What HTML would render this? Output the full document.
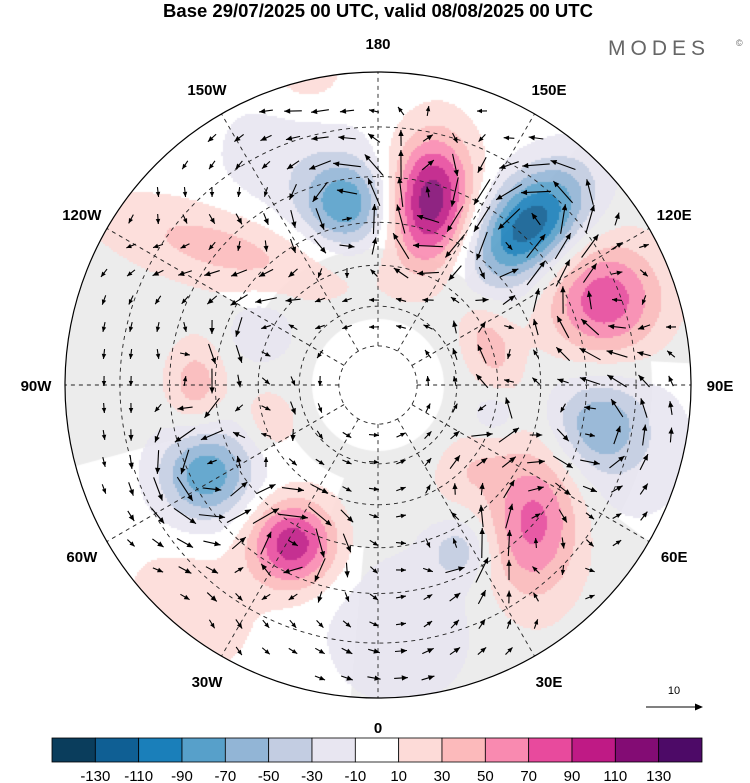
<!DOCTYPE html>
<html><head><meta charset="utf-8">
<style>
html,body{margin:0;padding:0;background:#fff;}
#wrap{position:relative;width:750px;height:783px;overflow:hidden;font-family:"Liberation Sans",sans-serif;}
canvas,svg{position:absolute;left:0;top:0;}
</style></head>
<body>
<div id="wrap">
<canvas id="cv" width="750" height="783"></canvas>
<svg id="sv" width="750" height="783"></svg>
</div>
<script>
// ---- data ----
const blobLon = [164, 136.5, -170, -158.6, 110.5, -62.5, -28.3, -39.9, 49.3, 79.6, 75, 26.4, 5, -90, -72, 109.7, 75.6, -115, -132, -167, 47];
const blobLat = [43.6, 37.4, 45.4, 33.2, 33.2, 43.2, 46, 23.6, 40.4, 37, 31.4, 45.2, 32.4, 45.6, 61.4, 60.2, 59.8, 57.8, 40.8, 19.2, 58.8];
const blobAmp = [125, -125, -80, -22, 85, -85, 105, 28, 80, -55, -20, -40, -30, 42, 25, 40, -30, -30, 40, 25, 25];
const blobSr  = [45, 48, 30, 55, 40, 33, 30, 38, 55, 32, 60, 22, 50, 20, 18, 18, 15, 22, 85, 30, 22];
const blobSt  = [28, 30, 30, 55, 40, 33, 30, 45, 33, 32, 60, 22, 50, 30, 22, 32, 15, 22, 28, 30, 28];
const blobRot = [-12, 0, 0, 0, 0, 0, 0, 0, 52, 0, 0, 0, 0, 0, 0, 0, 0, 0, -28, 0, 0];
const levels = [-130,-110,-90,-70,-50,-30,-10,10,30,50,70,90,110,130];
const levelLabels = ["-130","-110","-90","-70","-50","-30","-10","10","30","50","70","90","110","130"];
const lonLabels = ["180","150E","120E","90E","60E","30E","0","30W","60W","90W","120W","150W"];
const lonLabelVals = [180,150,120,90,60,30,0,-30,-60,-90,-120,-150];
const latCircles = [80,70,60,50,40,30];

const colors = ["#0a3d5c","#0f5f94","#1a7fba","#57a0ca","#92b5d6","#c3cde2","#e8e6f1","#ffffff","#fddbd8","#fcbabb","#f98ab0","#e84a9d","#bf1a85","#830c74","#4d0a67"];
const CX=378, CY=385, R=313, K=R/Math.tan(35*Math.PI/180);
function proj(lon,lat){const r=K*Math.tan((90-lat)/2*Math.PI/180);const a=lon*Math.PI/180;return [CX+r*Math.sin(a),CY+r*Math.cos(a)];}
const B=blobLon.map((lon,i)=>{const p=proj(lon,blobLat[i]);const dx=p[0]-CX,dy=p[1]-CY,d=Math.hypot(dx,dy)||1;
 let ux=dx/d,uy=dy/d;const t=blobRot[i]*Math.PI/180;const rx=ux*Math.cos(t)-uy*Math.sin(t),ry=ux*Math.sin(t)+uy*Math.cos(t);
 return {x:p[0],y:p[1],ux:rx,uy:ry,a:blobAmp[i],sr:blobSr[i],st:blobSt[i]};});
function field(x,y){let v=0;for(const b of B){const dx=x-b.x,dy=y-b.y;const pr=dx*b.ux+dy*b.uy,pt=-dx*b.uy+dy*b.ux;v+=b.a*Math.exp(-0.5*(pr*pr/(b.sr*b.sr)+pt*pt/(b.st*b.st)));}return v;}
function colorFor(v){let i=0;while(i<levels.length&&v>=levels[i])i++;return colors[i];}

// ---- canvas fill ----
const cv=document.getElementById('cv'),ctx=cv.getContext('2d');
ctx.save();ctx.beginPath();ctx.arc(CX,CY,R,0,Math.PI*2);ctx.clip();
ctx.fillStyle='#ececec';
ctx.fillRect(0,0,750,783);
function wedge(l1,l2,lat1,lat2){ctx.beginPath();for(let l=l1;l<=l2;l+=2){const p=proj(l,lat1);ctx.lineTo(p[0],p[1]);}for(let l=l2;l>=l1;l-=2){const p=proj(l,lat2);ctx.lineTo(p[0],p[1]);}ctx.closePath();ctx.fill();}
ctx.fillStyle='#fff';
wedge(140,240,20,56);wedge(-75,-5,20,50);wedge(-60,-20,50,65);wedge(60,95,20,27);
ctx.beginPath();ctx.arc(CX,CY,66,0,Math.PI*2);ctx.fill();
ctx.globalAlpha=0.9;
const st=2;
for(let y=CY-R;y<CY+R;y+=st){for(let x=CX-R;x<CX+R;x+=st){const v=field(x+1,y+1);if(v>=-10&&v<10)continue;ctx.fillStyle=colorFor(v);ctx.fillRect(x,y,st,st);}}
ctx.restore();

// ---- svg overlay ----
const NS='http://www.w3.org/2000/svg',sv=document.getElementById('sv');
function el(t,a,p){const e=document.createElementNS(NS,t);for(const k in a)e.setAttribute(k,a[k]);(p||sv).appendChild(e);return e;}
const grid=el('g',{stroke:'#222','stroke-width':0.9,'stroke-dasharray':'4,4',fill:'none'});


latCircles.forEach(lat=>{const r=K*Math.tan((90-lat)/2*Math.PI/180);const c=el('circle',{cx:CX,cy:CY,r:r},grid);

});
for(let lon=0;lon<360;lon+=30){const p1=proj(lon,80),p2=proj(lon,20);const l=el('line',{x1:p1[0],y1:p1[1],x2:p2[0],y2:p2[1]},grid);

}
// wind arrows
const arrows=el('g',{stroke:'#000','stroke-width':1.1,fill:'none'});


const hd=el('g',{fill:'#000'});
for(let y=CY-R+12;y<CY+R;y+=27){for(let x=CX-R+12;x<CX+R;x+=27){const dx=x-CX,dy=y-CY,d=Math.hypot(dx,dy);if(d>R-12||d<20)continue;
const e=1;const gx=(field(x+e,y)-field(x-e,y))/(2*e),gy=(field(x,y+e)-field(x,y-e))/(2*e);
let u=gy*13,v=-gx*13;const w=Math.min(1,d/150)*9;u+=w*dy/d;v+=-w*dx/d;
let L=Math.hypot(u,v);if(L<3)continue;const s=Math.min(L,30)/L;u*=s;v*=s;L=Math.hypot(u,v);
if(L<10){u*=10/L;v*=10/L;L=10;}
const x1=x-u/2,y1=y-v/2,x2=x+u/2,y2=y+v/2;const ln=el('line',{x1:x1,y1:y1,x2:x2,y2:y2},arrows);


const ux=u/L,uy=v/L,h=Math.min(6,L*0.5);
el('polygon',{points:`${x2},${y2} ${x2-ux*h-uy*h*0.45},${y2-uy*h+ux*h*0.45} ${x2-ux*h+uy*h*0.45},${y2-uy*h-ux*h*0.45}`},hd);}}
const rim=el('circle',{cx:CX,cy:CY,r:R,fill:'none',stroke:'#000','stroke-width':1.2});


// lon labels
lonLabels.forEach((t,i)=>{const a=lonLabelVals[i]*Math.PI/180;const x=CX+342*Math.sin(a),y=CY+342*Math.cos(a)+6;
const tx=el('text',{x:x,y:y,'text-anchor':'middle','font-size':15,'font-weight':'bold',fill:'#000'});tx.textContent=t;

});
// title
const ti=el('text',{x:378,y:17,'text-anchor':'middle','font-size':18.5,'font-weight':'bold',fill:'#000'});ti.textContent='Base 29/07/2025 00 UTC, valid 08/08/2025 00 UTC';


const mo=el('text',{x:608,y:55,'font-size':21,fill:'#666','letter-spacing':'5'});mo.textContent='MODES';


const cp=el('text',{x:736,y:46,'font-size':9,fill:'#666'});cp.textContent='©';


// reference vector
const rv=el('g',{});


el('line',{x1:646,y1:707,x2:700,y2:707,stroke:'#000','stroke-width':1},rv);
el('polygon',{points:'703,707 695,703.5 695,710.5',fill:'#000'},rv);
const rt=el('text',{x:674,y:694,'text-anchor':'middle','font-size':11},rv);rt.textContent='10';
// colorbar
const cb=el('g',{});


const x0=52,cw=650/colors.length;
colors.forEach((c,i)=>{const r=el('rect',{x:x0+i*cw,y:738,width:cw,height:24,fill:c,stroke:'#000','stroke-width':0.8},cb);

});
levelLabels.forEach((t,i)=>{const tx=el('text',{x:x0+(i+1)*cw,y:781,'text-anchor':'middle','font-size':15},cb);tx.textContent=t;

});
</script>
</body></html>
